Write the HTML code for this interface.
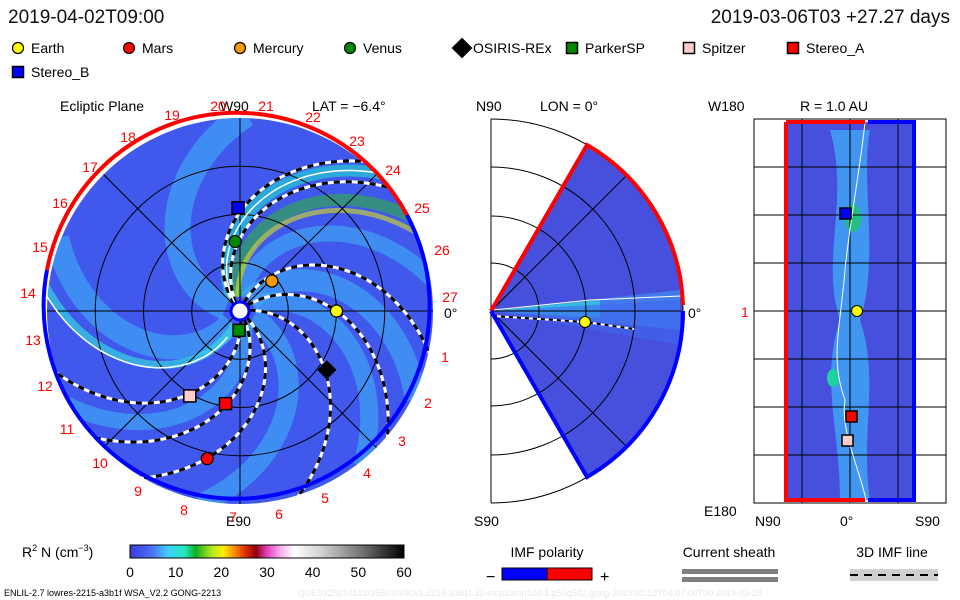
<!DOCTYPE html>
<html><head><meta charset="utf-8"><style>
html,body{margin:0;padding:0;background:#fff;}
svg{display:block;font-family:"Liberation Sans",sans-serif;}
</style></head><body>
<svg id="s" width="960" height="600" viewBox="0 0 960 600" xmlns="http://www.w3.org/2000/svg">
<defs>
<clipPath id="diskClip"><circle cx="240" cy="311" r="193"/></clipPath>
<clipPath id="wedgeClip"><path d="M491,311 L587,145 A192,192 0 0 1 587,477 Z"/></clipPath>
<linearGradient id="cbar" x1="0" x2="1" y1="0" y2="0">
<stop offset="0" stop-color="#3a3ad8"/><stop offset="0.08" stop-color="#4a70f8"/><stop offset="0.14" stop-color="#40d0f8"/><stop offset="0.2" stop-color="#20e8c0"/><stop offset="0.24" stop-color="#10b020"/><stop offset="0.3" stop-color="#b8e820"/><stop offset="0.34" stop-color="#f8f000"/><stop offset="0.38" stop-color="#f89000"/><stop offset="0.42" stop-color="#e03000"/><stop offset="0.46" stop-color="#900010"/><stop offset="0.5" stop-color="#e040c0"/><stop offset="0.55" stop-color="#f8b0f0"/><stop offset="0.6" stop-color="#ffffff"/><stop offset="0.7" stop-color="#d0d0d0"/><stop offset="0.85" stop-color="#707070"/><stop offset="1" stop-color="#000"/>
</linearGradient>
</defs>
<text x="8" y="23" font-size="19" fill="#111">2019-04-02T09:00</text>
<text x="950" y="23" font-size="19" fill="#111" text-anchor="end">2019-03-06T03 +27.27 days</text>
<g id="legend"></g>

<g>
<text x="60" y="111" font-size="14">Ecliptic Plane</text>
<text x="220" y="111" font-size="14">W90</text>
<text x="312" y="111" font-size="14">LAT = −6.4°</text>
<text x="226" y="526" font-size="14">E90</text>
<text x="444" y="318" font-size="14">0°</text>
<circle cx="240" cy="311" r="193" fill="#4058ec"/>
<g id="bands" clip-path="url(#diskClip)"></g>
<g id="grid" fill="none" stroke="#000" stroke-width="1"></g>
<g id="spirals" clip-path="url(#diskClip)"></g>
<path d="M47,270 A193,193 0 0 1 407,215" fill="none" stroke="#f00" stroke-width="4"/>
<path d="M407,215 A193,193 0 1 1 47,270" fill="none" stroke="#00f" stroke-width="4"/>
<circle cx="240" cy="311" r="9" fill="#fff" stroke="#00f" stroke-width="3"/>
<g id="nums" fill="#f00" font-size="14" text-anchor="middle"></g>
<g id="bodies"></g>
</g>

<g>
<text x="476" y="111" font-size="14">N90</text>
<text x="540" y="111" font-size="14">LON = 0°</text>
<text x="474" y="526" font-size="14">S90</text>
<line x1="491" y1="119" x2="491" y2="503" stroke="#000"/>
<path d="M491,311 L587,145 A192,192 0 0 1 587,477 Z" fill="#4650dc"/>
<g clip-path="url(#wedgeClip)">
<path d="M491,311 L680,290 L680,330 Z" fill="#40a8f8" opacity="0.5"/>
<path d="M491,311 L600,300 L600,318 Z" fill="#30e0e0" opacity="0.6"/>
<path d="M491,311 L680,300 L680,345 Z" fill="#4068f0" opacity="0.6"/>
</g>
<g fill="none" stroke="#000">
<path d="M491,263 A48,48 0 0 1 491,359"/><path d="M491,216 A95,95 0 0 1 491,406"/><path d="M491,167 A144,144 0 0 1 491,455"/><path d="M491,119 A192,192 0 0 1 491,503"/>
<line x1="491" y1="311" x2="681" y2="311"/><line x1="491" y1="311" x2="626" y2="176"/><line x1="491" y1="311" x2="626" y2="446"/>
</g>
<path d="M493,310 L590,300 L681,296" fill="none" stroke="#fff"/>
<path d="M493,316 L585,322 L634,329" fill="none" stroke="#fff" stroke-width="2"/>
<path d="M493,316 L585,322 L634,329" fill="none" stroke="#000" stroke-width="2" stroke-dasharray="4 4"/>
<path d="M491,311 L587,145 A192,192 0 0 1 683,305" fill="none" stroke="#f00" stroke-width="4"/>
<path d="M683,311 A192,192 0 0 1 587,477 L491,311" fill="none" stroke="#00f" stroke-width="4"/>
<circle cx="585" cy="322" r="5.5" fill="#ff0" stroke="#000"/>
<text x="688" y="318" font-size="14">0°</text>
</g>

<g>
<text x="800" y="111" font-size="14">R = 1.0 AU</text>
<text x="708" y="111" font-size="14">W180</text>
<text x="704" y="516" font-size="14">E180</text>
<text x="755" y="526" font-size="14">N90</text>
<text x="840" y="526" font-size="14">0°</text>
<text x="915" y="526" font-size="14">S90</text>
<text x="741" y="317" font-size="14" fill="#f00">1</text>
<rect x="754" y="119" width="192" height="384" fill="#fff" stroke="#000"/>
<rect x="786" y="122" width="128" height="378" fill="#4650dc"/>
<path d="M830,130 C850,200 820,260 840,320 C820,380 840,430 840,500 L870,500 C860,430 880,380 860,320 C880,260 860,180 870,130 Z" fill="#40a8f8" opacity="0.8"/>
<ellipse cx="853" cy="218" rx="8" ry="14" fill="#20c080"/>
<ellipse cx="833" cy="378" rx="6" ry="9" fill="#20d0a0"/>
<g stroke="#000" id="rgrid"></g>
<path d="M865,122 C860,170 850,220 845,270 C840,330 830,360 845,400 C840,430 860,470 866,500" fill="none" stroke="#fff"/>
<path d="M786,122 V500 H865 M786,122 H865" fill="none" stroke="#f00" stroke-width="4"/>
<path d="M868,122 H914 V500 H868" fill="none" stroke="#00f" stroke-width="4"/>
<rect x="840" y="208" width="11" height="11" fill="#00f" stroke="#000" stroke-width="1.5"/>
<circle cx="857" cy="311" r="5.5" fill="#ff0" stroke="#000"/>
<rect x="846" y="411" width="11" height="11" fill="#f00" stroke="#000" stroke-width="1.5"/>
<rect x="842" y="435" width="11" height="11" fill="#fcc" stroke="#000" stroke-width="1.5"/>
</g>

<g>
<text x="22" y="557" font-size="14">R<tspan dy="-6" font-size="9">2</tspan><tspan dy="6"> N (cm</tspan><tspan dy="-6" font-size="9">−3</tspan><tspan dy="6">)</tspan></text>
<rect x="130" y="545" width="274" height="13" fill="url(#cbar)" stroke="#000"/>
<g id="cticks" font-size="14" text-anchor="middle"></g>
</g>
<g>
<text x="547" y="557" font-size="14" text-anchor="middle">IMF polarity</text>
<text x="486" y="582" font-size="16">−</text>
<rect x="502" y="568" width="45" height="12" fill="#00f"/>
<rect x="547" y="568" width="45" height="12" fill="#f00" stroke="#000"/>
<rect x="502" y="568" width="90" height="12" fill="none" stroke="#000"/>
<text x="600" y="582" font-size="16">+</text>
</g>
<g>
<text x="729" y="557" font-size="14" text-anchor="middle">Current sheath</text>
<rect x="682" y="569" width="96" height="5" fill="#808080"/><rect x="682" y="577" width="96" height="5" fill="#808080"/>
</g>
<g>
<text x="892" y="557" font-size="14" text-anchor="middle">3D IMF line</text>
<rect x="850" y="569" width="88" height="12" fill="#d0d0d0"/>
<line x1="850" y1="575" x2="938" y2="575" stroke="#000" stroke-width="2" stroke-dasharray="8 6"/>
</g>
<text x="4" y="596" font-size="9" fill="#000">ENLIL-2.7 lowres-2215-a3b1f WSA_V2.2 GONG-2213</text>
<text x="298" y="596" font-size="9" fill="#e8e8e8">QUE0328214101/256x30x90x1.2215-a3b1f.32-mcp1umn1cd-1.g53q5d2.gong-2019:02:12T04:07:00T00     2019-03-28</text>
</svg>
<script>
const NS="http://www.w3.org/2000/svg";
// data
const bodyNames=["Earth","Mars","Mercury","Venus","OSIRIS-REx","ParkerSP","Spitzer","Stereo_A","Stereo_B"];
const bodyX=[1.0,-0.34,0.33,-0.05,0.9,-0.01,-0.52,-0.15,-0.02];
const bodyY=[0.0,-1.53,0.31,0.72,-0.61,-0.2,-0.88,-0.96,1.07];
const bodyColor=["#ff0","#f00","#f90","#080","#000","#080","#fcc","#f00","#00f"];
const bodyShape=["c","c","c","c","d","s","s","s","s"];
const spiralAngles=[0,91,80,239,261,280,328,28];
const cbTicks=[0,10,20,30,40,50,60];
const dayLabels=["27","1","2","3","4","5","6","7","8","9","10","11","12","13","14","15","16","17","18","19","20","21","22","23","24","25","26"];
const dayX=[450,445,428,402,367,325,279,233,184,138,100,67,45,33,28,40,60,90,128,172,218,266,313,357,393,422,442];
const dayY=[297,357,403,441,473,498,514,517,510,491,463,429,386,340,293,247,203,167,137,115,106,106,117,141,170,208,250];
const cx=240,cy=311,AU=96.5,K=0.7;
const sx=x=>cx+x*AU, sy=y=>cy-y*AU;
const s=document.getElementById('s');
function el(t,a,p){const e=document.createElementNS(NS,t);for(const k in a)e.setAttribute(k,a[k]);p.appendChild(e);return e;}
function spiralPath(a1,r0){let d="";for(let r=(r0||0.1);r<=2.05;r+=0.03){const ph=(a1*Math.PI/180)-K*(r-1);d+=(d?"L":"M")+sx(r*Math.cos(ph)).toFixed(1)+","+sy(r*Math.sin(ph)).toFixed(1);}return d;}
// bands
const bands=document.getElementById('bands');
[[15,"#40b0f8",22],[50,"#40b0f8",16],[130,"#40b0f8",26],[200,"#40b0f8",24],[250,"#40b0f8",16],[300,"#40b0f8",20],[350,"#40b0f8",18],[86,"#20e0d0",12],[70,"#30b040",12],[64,"#d8e020",5],[214,"#30e8e0",8]].forEach(b=>{
const e=el('path',{d:spiralPath(b[0],0.15),fill:'none',stroke:b[1],'stroke-width':b[2],opacity:0.6},bands);

});
// grid
const g=document.getElementById('grid');
[0.5,1,1.5].forEach(r=>el('circle',{cx,cy,r:r*AU},g));
for(let a=0;a<180;a+=45){const r=2*AU,c=Math.cos(a*Math.PI/180),n=Math.sin(a*Math.PI/180);el('line',{x1:cx-r*c,y1:cy+r*n,x2:cx+r*c,y2:cy-r*n},g);}
// spirals
const sp=document.getElementById('spirals');
spiralAngles.forEach(a=>{
el('path',{d:spiralPath(a),fill:'none',stroke:'#fff','stroke-width':3},sp);
const e=el('path',{d:spiralPath(a),fill:'none',stroke:'#000','stroke-width':3,'stroke-dasharray':'6 6'},sp);

});
el('path',{d:spiralPath(216,0.3),fill:'none',stroke:'#fff','stroke-width':1.5},sp);
el('path',{d:spiralPath(86,0.1),fill:'none',stroke:'#fff','stroke-width':1.5},sp);
// day numbers
const nums=document.getElementById('nums');
dayLabels.forEach((t,i)=>{const e=el('text',{x:dayX[i],y:dayY[i]+5},nums);e.textContent=t;

});
// marker
function marker(p,shape,x,y,c,sz){
if(shape==="c")return el('circle',{cx:x,cy:y,r:sz/2,fill:c,stroke:'#000','stroke-width':1.2},p);
if(shape==="s")return el('rect',{x:x-sz/2,y:y-sz/2,width:sz,height:sz,fill:c,stroke:'#000','stroke-width':1.5},p);
return el('path',{d:`M${x},${y-sz*0.8}L${x+sz*0.8},${y}L${x},${y+sz*0.8}L${x-sz*0.8},${y}Z`,fill:c},p);}
const bg=document.getElementById('bodies');
bodyNames.forEach((n,i)=>{const e=marker(bg,bodyShape[i],sx(bodyX[i]),sy(bodyY[i]),bodyColor[i],12);

});
// legend
const lg=document.getElementById('legend');
const lgX=[18,129,240,350,462,572,689,793,18],lgY=[48,48,48,48,48,48,48,48,72];
bodyNames.forEach((n,i)=>{const m=marker(lg,bodyShape[i],lgX[i],lgY[i],bodyColor[i],bodyShape[i]==="d"?13:11);
const t=el('text',{x:lgX[i]+(bodyShape[i]==="d"?11:13),y:lgY[i]+5,'font-size':14},lg);t.textContent=n;

});
// right grid
const rg=document.getElementById('rgrid');
for(let y=167;y<500;y+=48)el('line',{x1:754,y1:y,x2:946,y2:y},rg);
[802,850,898].forEach(x=>el('line',{x1:x,y1:119,x2:x,y2:503},rg));
// colorbar ticks
const ct=document.getElementById('cticks');
cbTicks.forEach(v=>{const x=130+v/60*274;const t=el('text',{x,y:577},ct);t.textContent=v;

});
</script>
</body></html>
